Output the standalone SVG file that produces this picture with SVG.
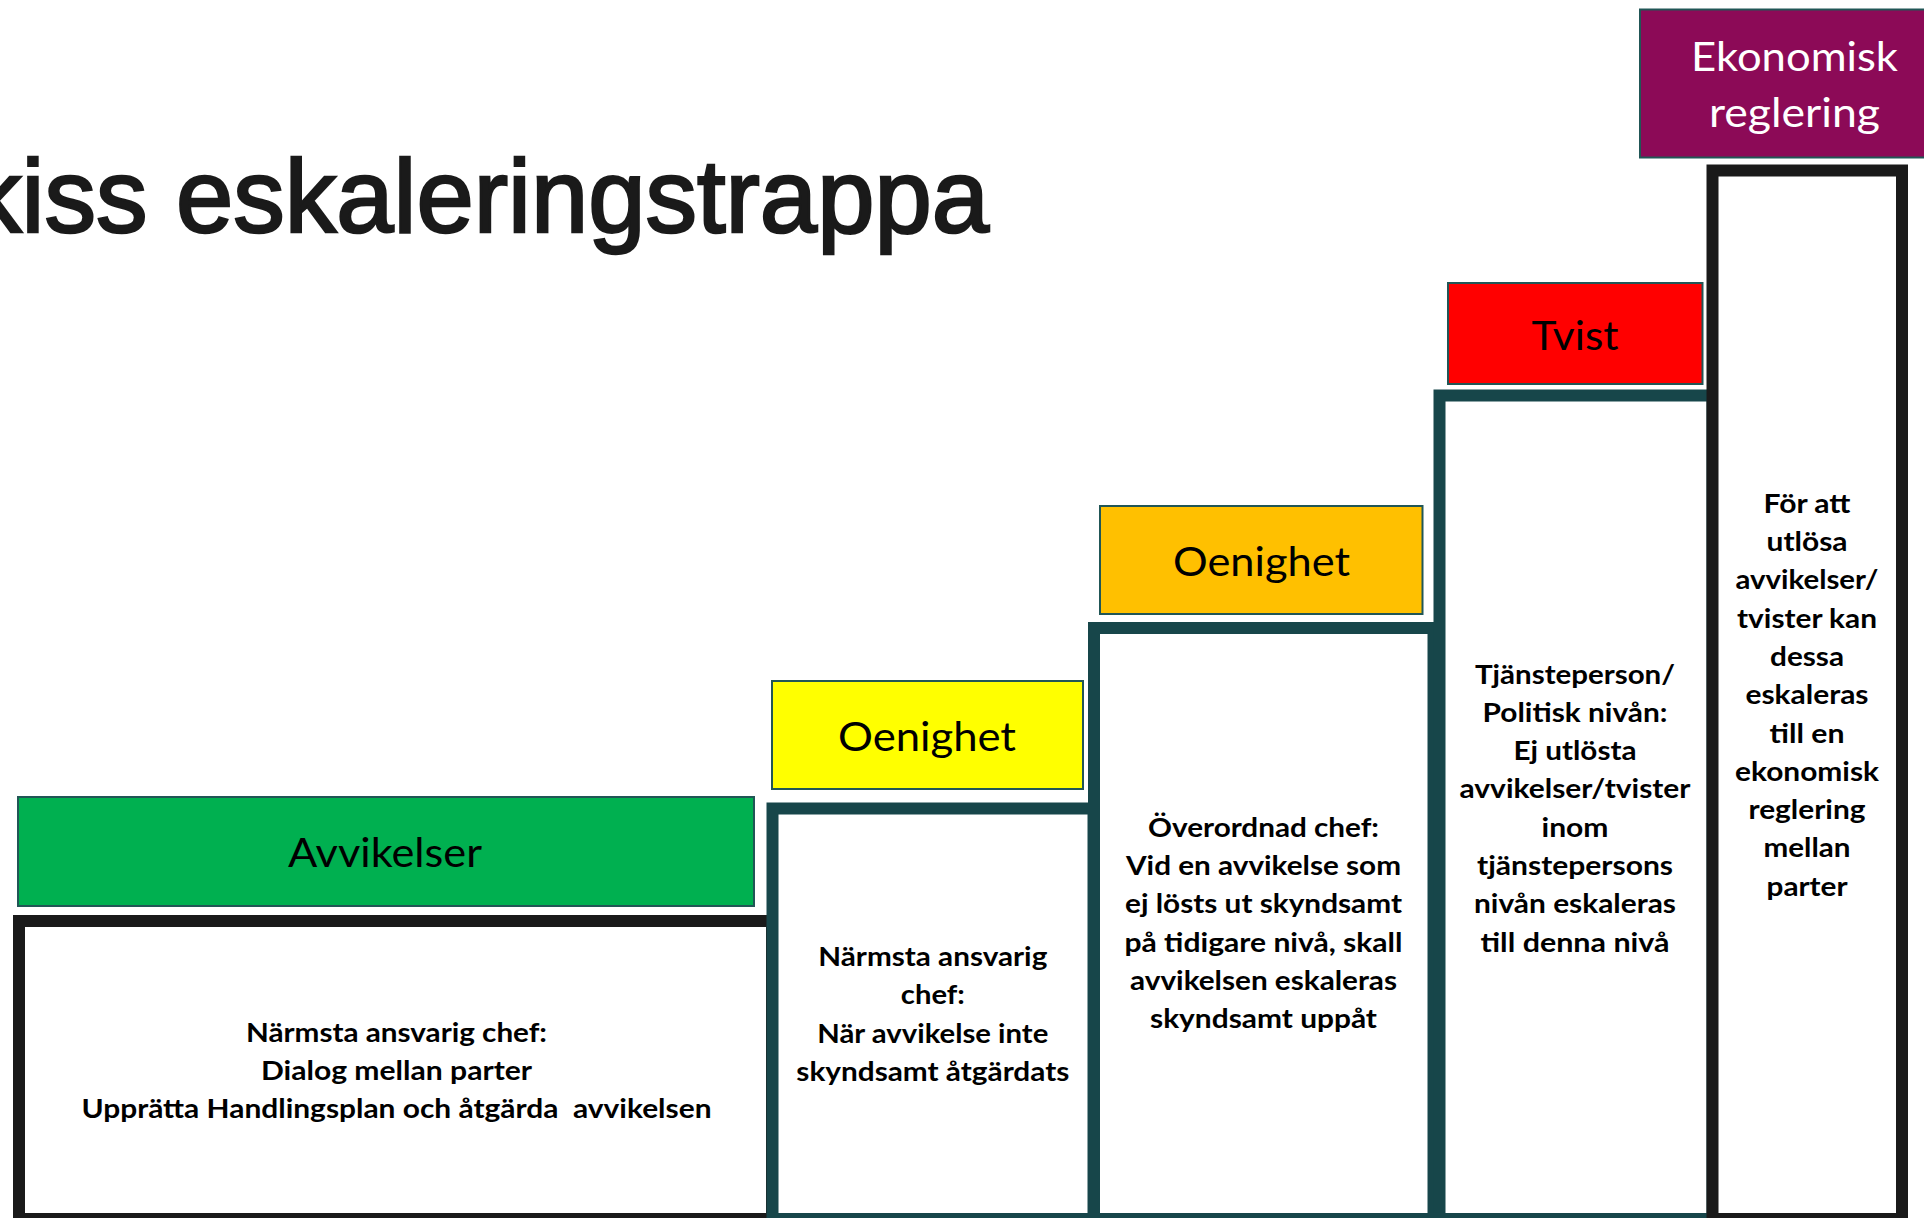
<svg xmlns="http://www.w3.org/2000/svg" width="1924" height="1218" viewBox="0 0 1924 1218">
  <style>
    .fb { fill:#ffffff; stroke:#1a1a1a; stroke-width:12; }
    .ft { fill:#ffffff; stroke:#17464a; stroke-width:12; }
    .lab { stroke:#215656; stroke-width:2; }
    .lt { font-family: Lato, "Liberation Sans", sans-serif; font-size:40px; text-anchor:middle; fill:#000000; }
    .bt { font-family: Lato, "Liberation Sans", sans-serif; font-weight:700; font-size:27px; text-anchor:middle; fill:#000000; white-space:pre; }
    .title { font-family: "Liberation Sans", Arial, sans-serif; font-size:103px; fill:#1a1a1a; stroke:#1a1a1a; stroke-width:2.5; }
  </style>
  <rect x="0" y="0" width="1924" height="1218" fill="#ffffff"/>

  <g id="title">
    <text class="title" x="-30" y="232" textLength="1019" lengthAdjust="spacingAndGlyphs">kiss eskaleringstrappa</text>
  </g>

  <g id="step1-avvikelser">
    <rect class="fb" x="19" y="921" width="753" height="298"/>
    <rect class="lab" x="18" y="797" width="736" height="109" fill="#00b050"/>
    <text class="lt" x="385" y="867" textLength="194" lengthAdjust="spacingAndGlyphs">Avvikelser</text>
    <text class="bt" x="396.5" y="1041.7" textLength="301" lengthAdjust="spacingAndGlyphs">Närmsta ansvarig chef:</text>
    <text class="bt" x="396.5" y="1080" textLength="271" lengthAdjust="spacingAndGlyphs">Dialog mellan parter</text>
    <text class="bt" x="396.5" y="1118.3" textLength="630" lengthAdjust="spacingAndGlyphs">Upprätta Handlingsplan och åtgärda  avvikelsen</text>
  </g>

  <g id="step2-oenighet">
    <rect class="ft" x="772.5" y="808.5" width="321" height="410.5"/>
    <rect class="lab" x="772" y="681" width="311" height="108" fill="#ffff00"/>
    <text class="lt" x="927" y="751" textLength="178" lengthAdjust="spacingAndGlyphs">Oenighet</text>
    <text class="bt" x="932.8" y="966" textLength="229" lengthAdjust="spacingAndGlyphs">Närmsta ansvarig</text>
    <text class="bt" x="932.8" y="1004.3" textLength="64" lengthAdjust="spacingAndGlyphs">chef:</text>
    <text class="bt" x="932.8" y="1042.6" textLength="231" lengthAdjust="spacingAndGlyphs">När avvikelse inte</text>
    <text class="bt" x="932.8" y="1081" textLength="273" lengthAdjust="spacingAndGlyphs">skyndsamt åtgärdats</text>
  </g>

  <g id="step3-oenighet">
    <rect class="ft" x="1094" y="628" width="339.5" height="591"/>
    <rect class="lab" x="1100" y="506" width="322.5" height="108" fill="#ffc000"/>
    <text class="lt" x="1261.5" y="576" textLength="177" lengthAdjust="spacingAndGlyphs">Oenighet</text>
    <text class="bt" x="1263.5" y="836.7" textLength="231" lengthAdjust="spacingAndGlyphs">Överordnad chef:</text>
    <text class="bt" x="1263.5" y="875" textLength="275" lengthAdjust="spacingAndGlyphs">Vid en avvikelse som</text>
    <text class="bt" x="1263.5" y="913.3" textLength="277" lengthAdjust="spacingAndGlyphs">ej lösts ut skyndsamt</text>
    <text class="bt" x="1263.5" y="951.6" textLength="278" lengthAdjust="spacingAndGlyphs">på tidigare nivå, skall</text>
    <text class="bt" x="1263.5" y="990" textLength="267" lengthAdjust="spacingAndGlyphs">avvikelsen eskaleras</text>
    <text class="bt" x="1263.5" y="1028.3" textLength="227" lengthAdjust="spacingAndGlyphs">skyndsamt uppåt</text>
  </g>

  <g id="step4-tvist">
    <rect class="ft" x="1439.5" y="395.5" width="273" height="823.5"/>
    <rect class="lab" x="1448" y="283" width="254.5" height="101" fill="#ff0000"/>
    <text class="lt" x="1575" y="350" textLength="87" lengthAdjust="spacingAndGlyphs">Tvist</text>
    <text class="bt" x="1575" y="683.5" textLength="200" lengthAdjust="spacingAndGlyphs">Tjänsteperson/</text>
    <text class="bt" x="1575" y="721.8" textLength="185" lengthAdjust="spacingAndGlyphs">Politisk nivån:</text>
    <text class="bt" x="1575" y="760.1" textLength="123" lengthAdjust="spacingAndGlyphs">Ej utlösta</text>
    <text class="bt" x="1575" y="798.4" textLength="231" lengthAdjust="spacingAndGlyphs">avvikelser/tvister</text>
    <text class="bt" x="1575" y="836.7" textLength="67" lengthAdjust="spacingAndGlyphs">inom</text>
    <text class="bt" x="1575" y="875" textLength="196" lengthAdjust="spacingAndGlyphs">tjänstepersons</text>
    <text class="bt" x="1575" y="913.3" textLength="202" lengthAdjust="spacingAndGlyphs">nivån eskaleras</text>
    <text class="bt" x="1575" y="951.6" textLength="189" lengthAdjust="spacingAndGlyphs">till denna nivå</text>
  </g>

  <g id="step5-ekonomisk-reglering">
    <rect class="fb" x="1712.5" y="170.5" width="189.5" height="1048.5"/>
    <rect class="lab" x="1640" y="9.5" width="300" height="148" fill="#8c0a57"/>
    <text class="lt" x="1794.5" y="70.7" textLength="207" lengthAdjust="spacingAndGlyphs" style="fill:#ffffff">Ekonomisk</text>
    <text class="lt" x="1794.5" y="126.7" textLength="171" lengthAdjust="spacingAndGlyphs" style="fill:#ffffff">reglering</text>
    <text class="bt" x="1807" y="512.7" textLength="87" lengthAdjust="spacingAndGlyphs">För att</text>
    <text class="bt" x="1807" y="551" textLength="81" lengthAdjust="spacingAndGlyphs">utlösa</text>
    <text class="bt" x="1807" y="589.3" textLength="143" lengthAdjust="spacingAndGlyphs">avvikelser/</text>
    <text class="bt" x="1807" y="627.6" textLength="140" lengthAdjust="spacingAndGlyphs">tvister kan</text>
    <text class="bt" x="1807" y="665.9" textLength="74" lengthAdjust="spacingAndGlyphs">dessa</text>
    <text class="bt" x="1807" y="704.2" textLength="123" lengthAdjust="spacingAndGlyphs">eskaleras</text>
    <text class="bt" x="1807" y="742.5" textLength="75" lengthAdjust="spacingAndGlyphs">till en</text>
    <text class="bt" x="1807" y="780.8" textLength="144" lengthAdjust="spacingAndGlyphs">ekonomisk</text>
    <text class="bt" x="1807" y="819.1" textLength="117" lengthAdjust="spacingAndGlyphs">reglering</text>
    <text class="bt" x="1807" y="857.4" textLength="87" lengthAdjust="spacingAndGlyphs">mellan</text>
    <text class="bt" x="1807" y="895.7" textLength="81" lengthAdjust="spacingAndGlyphs">parter</text>
  </g>

  <g id="connectors"/>
</svg>
